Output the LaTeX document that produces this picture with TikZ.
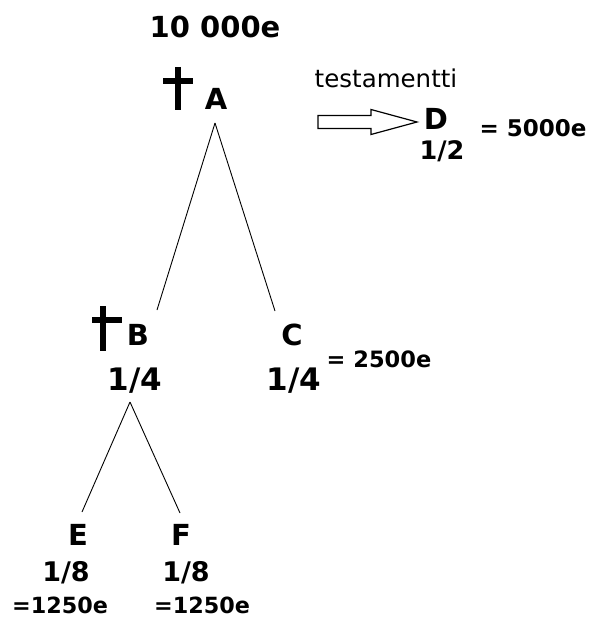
\documentclass[tikz,border=0pt]{standalone}
\usepackage{fontspec}
\setmainfont{DejaVu Sans}
\begin{document}
\begin{tikzpicture}[x=1pt,y=-1pt,
  txt/.style={inner sep=0pt,anchor=base,font=\bfseries\fontsize{#1}{#1}\selectfont},
  lbl/.style={txt=29},
  edge/.style={line width=0.9pt,black},
  crossline/.style={line width=6pt,black}]
\useasboundingbox (0,0) rectangle (589,617);
% title
\node[txt=29] (total) at (215,38) {10 000e};
% crosses
\draw[crossline] (178,67) -- (178,110);
\draw[crossline] (163,81) -- (193,81);
\draw[crossline] (103,306) -- (103,351);
\draw[crossline] (92,320) -- (122,320);
% nodes
\node[lbl] (A) at (216,110) {A};
\node[lbl] (B) at (138,345) {B};
\node[lbl] (C) at (292,345) {C};
\node[lbl] (D) at (436,130) {D};
\node[lbl] (E) at (78,545) {E};
\node[lbl] (F) at (181,545) {F};
\node[txt=31] (Bf) at (135,390) {1/4};
\node[txt=31] (Cf) at (294,390) {1/4};
\node[txt=25.5] (Df) at (442,160) {1/2};
\node[txt=27] (Ef) at (66,581) {1/8};
\node[txt=27] (Ff) at (186,581) {1/8};
\node[txt=23] (Dm) at (533,137) {= 5000e};
\node[txt=22.5] (Cm) at (379,367) {= 2500e};
\node[txt=22.3] (Em) at (60,613) {=1250e};
\node[txt=22.3] (Fm) at (202,613) {=1250e};
\node[inner sep=0pt,anchor=base,font=\fontsize{24.5}{24.5}\selectfont] (will) at (386,88) {testamentti};
% connectors
\coordinate (Atop) at (215,123);
\coordinate (Btop) at (130,402);
\draw[edge] (Atop) -- (157,310) coordinate (Bin);
\draw[edge] (Atop) -- (275,311) coordinate (Cin);
\draw[edge] (Btop) -- (82,512) coordinate (Ein);
\draw[edge] (Btop) -- (180,513) coordinate (Fin);
% hollow arrow
\draw[line width=1.2pt,line join=miter]
  (318,115.5) -- (371,115.5) -- (371,109.5) -- (417,122) -- (371,134.5) -- (371,128.5) -- (318,128.5) -- cycle;
\end{tikzpicture}
\end{document}
